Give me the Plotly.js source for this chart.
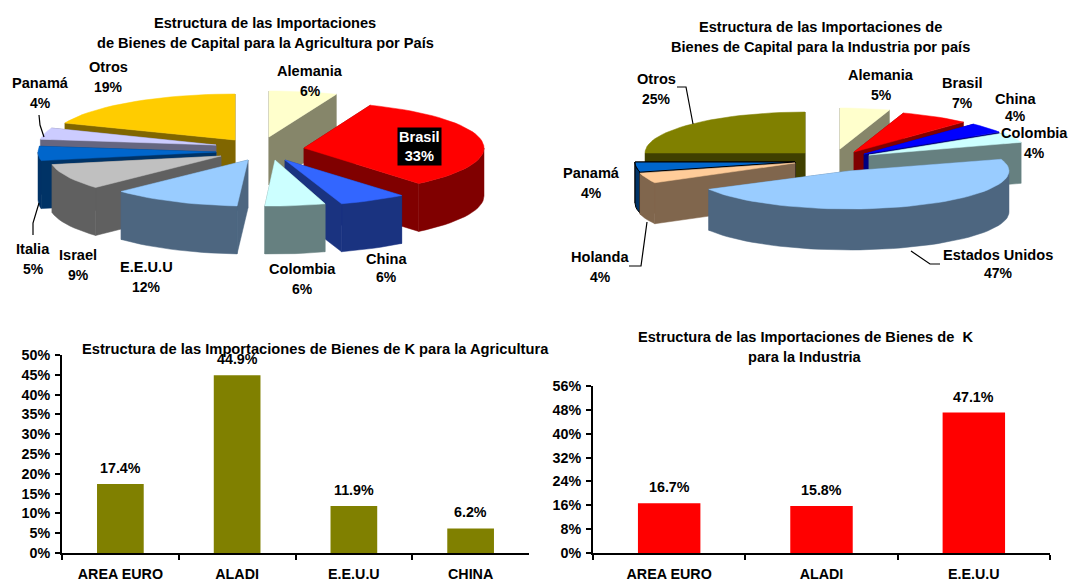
<!DOCTYPE html>
<html>
<head>
<meta charset="utf-8">
<script src="https://cdn.plot.ly/plotly-3.0.1.min.js"></script>
<style>html,body{margin:0;padding:0;background:#fff;overflow:hidden}#c{width:1069px;height:581px}</style>
</head>
<body>
<div id="c"></div>
<script>
// ---- data ----
const agriPieLabels = ['Alemania','Brasil','China','Colombia','E.E.U.U','Israel','Italia','Panamá','Otros'];
const agriPieValues = [6,33,6,6,12,9,5,4,19];
const indPieLabels = ['Alemania','Brasil','China','Colombia','Estados Unidos','Holanda','Panamá','Otros'];
const indPieValues = [5,7,4,4,47,4,4,25];
const agriBarCats = ['AREA EURO','ALADI','E.E.U.U','CHINA'];
const agriBarValues = [17.4,44.9,11.9,6.2];
const indBarCats = ['AREA EURO','ALADI','E.E.U.U'];
const indBarValues = [16.7,15.8,47.1];

// ---- styles & layout ----
const FONT = 'Liberation Sans, Arial, sans-serif';
const agriTop = ['#FFFFCC','#FF0000','#3366FF','#CCFFFF','#99CCFF','#C0C0C0','#0066CC','#CCCCFF','#FFCC00'];
const agriWall = ['#86866A','#800000','#1A3380','#668080','#4D6680','#606060','#003366','#666680','#806600'];
const indTop = ['#FFFFCC','#FF0000','#0000FF','#CCFFFF','#99CCFF','#FFCC99','#0066CC','#808000'];
const indWall = ['#86866A','#800000','#000080','#668080','#4D6680','#80664D','#003366','#404000'];
// slice tips on the page (pixel axes), per slice
const agriTips = [[269,137],[304,148],[285,160],[275,160],[248,160],[221,156],[216,152],[216,145],[235,140]];
const indTips = [[840,149],[854,152],[864,154],[869,155],[849,171],[795,163],[795,162],[805,153]];
const agriOrder = [8,7,6,5,4,0,1,2,3];
const indOrder = [7,0,1,2,3,6,5,4];
const agriRx = [183,180,183,162,174,172,178,177,183];
const agriRy = [46,46,46,46,46,46,46,46,46];
const indRx = [160,160,160,160,160,160,160,160];
const indRy = [41,41,41,41,38,41,41,41];
const agriDepth = 48, indDepth = 41;

const traces = [];
function poly(xs, ys, color, outline) {
  traces.push({type:'scatter', mode:'lines', x:xs.concat(xs[0]), y:ys.concat(ys[0]),
    fill:'toself', fillcolor:color, line:{color:outline||color, width:outline?1:0.5},
    xaxis:'x3', yaxis:'y3', hoverinfo:'skip', showlegend:false});
}
function pt(tip, s, deg, down) {
  const r = deg*Math.PI/180;
  return [tip[0]+s.rx*Math.sin(r), tip[1]-s.ry*Math.cos(r)+(down?s.depth:0)];
}
function arc(tip, s, a, b, down) {
  const out=[]; const n=Math.max(2,Math.ceil((b-a)/3));
  for(let i=0;i<=n;i++) out.push(pt(tip,s,a+(b-a)*i/n,down));
  return out;
}
function radial(tip, s, deg) {
  const p=pt(tip,s,deg,false), q=pt(tip,s,deg,true);
  return {x:[tip[0],p[0],q[0],tip[0]], y:[tip[1],p[1],q[1],tip[1]+s.depth]};
}
function drawPie(values, tips, order, tops, walls, rxs, rys, depth, outlined) {
  const total = values.reduce((a,b)=>a+b,0);
  let c=0; const angles=values.map(v=>{const a=c/total*360; c+=v; return [a,c/total*360];});
  order.forEach(i=>{
    const [a,b]=angles[i], tip=tips[i], line=outlined===i?'#000000':null, s={rx:rxs[i],ry:rys[i],depth:depth};
    const faces=[[a,Math.sin(a*Math.PI/180)<0],[b,Math.sin(b*Math.PI/180)>0]];
    faces.filter(f=>!f[1]).forEach(f=>{const r=radial(tip,s,f[0]); poly(r.x,r.y,walls[i],line);});
    const a2=Math.max(a,90), b2=Math.min(b,270);
    if(b2>a2){
      const up=arc(tip,s,a2,b2,false), dn=arc(tip,s,a2,b2,true).reverse(), all=up.concat(dn);
      poly(all.map(p=>p[0]),all.map(p=>p[1]),walls[i],line);
    }
    faces.filter(f=>f[1]).forEach(f=>{const r=radial(tip,s,f[0]); poly(r.x,r.y,walls[i],line);});
    const top=[tip].concat(arc(tip,s,a,b,false));
    poly(top.map(p=>p[0]),top.map(p=>p[1]),tops[i],line);
  });
}
drawPie(agriPieValues,agriTips,agriOrder,agriTop,agriWall,agriRx,agriRy,agriDepth,-1);
drawPie(indPieValues,indTips,indOrder,indTop,indWall,indRx,indRy,indDepth,6);

// leader lines (pixel axes)
const leaders = [
  [[39,115],[40,125],[44,137]],
  [[33,235],[33,223],[39,203]],
  [[677,87],[686,87],[693,124]],
  [[629,266],[641,266],[647,222]],
  [[940,264],[930,264],[911,251]]
];
leaders.forEach(l=>traces.push({type:'scatter',mode:'lines',x:l.map(p=>p[0]),y:l.map(p=>p[1]),
  line:{color:'#000',width:1.2},xaxis:'x3',yaxis:'y3',hoverinfo:'skip',showlegend:false}));

// bars
traces.push({type:'bar',x:agriBarCats,y:agriBarValues,marker:{color:'#808000'},width:0.4,xaxis:'x',yaxis:'y',hoverinfo:'skip',showlegend:false});
traces.push({type:'bar',x:indBarCats,y:indBarValues,marker:{color:'#FF0000'},width:0.41,xaxis:'x2',yaxis:'y2',hoverinfo:'skip',showlegend:false});

// text
const annotations=[];
const NAME=14.6, NUM=14, BARNUM=14.3;
function txt(s,x,y,size){
  annotations.push({text:'<b>'+s+'</b>',x:x,y:y,xref:'x3',yref:'y3',showarrow:false,xanchor:'center',yanchor:'middle',
    font:{family:FONT,size:size,color:'#000'}});
}
txt('Estructura de las Importaciones',265,23,NAME);
txt('de Bienes de Capital para la Agricultura por País',265,43,NAME);
txt('Estructura de las Importaciones de',820,27,NAME);
txt('Bienes de Capital para la Industria por país',820,47,NAME);
txt('Estructura de las Importaciones de Bienes de K para la Agricultura',315,349,14.7);
txt('Estructura de las Importaciones de Bienes de \u00a0K',805,337,NAME);
txt('para la Industria',805,357,NAME);

const agriLabelPos=[[310,71],[0,0],[386,259],[302,269],[146,267],[78,255],[33,249],[40,83],[108,67]];
const agriLabelGap=[20,0,18,20,20,20,20,20,20];
agriPieLabels.forEach((n,i)=>{
  if(i===1) return;
  txt(n,agriLabelPos[i][0],agriLabelPos[i][1],NAME);
  txt(agriPieValues[i]+'%',agriLabelPos[i][0],agriLabelPos[i][1]+agriLabelGap[i],NUM);
});
annotations.push({text:'<b>'+agriPieLabels[1]+'<br>'+agriPieValues[1]+'%</b>',x:419,y:146,xref:'x3',yref:'y3',showarrow:false,
  bgcolor:'#000',borderpad:1,font:{family:FONT,size:14.6,color:'#fff'},xanchor:'center',yanchor:'middle'});

const indLabelPos=[[881,75],[962,83],[1015,99],[1034,133],[998,255],[600,257],[591,173],[656,79]];
const indLabelGap=[20,20,17,20,18,20,20,20];
indPieLabels.forEach((n,i)=>{
  txt(n,indLabelPos[i][0],indLabelPos[i][1],NAME);
  txt(indPieValues[i]+'%',indLabelPos[i][0],indLabelPos[i][1]+indLabelGap[i],NUM);
});
agriBarCats.forEach((c,i)=>annotations.push({text:'<b>'+agriBarValues[i].toFixed(1)+'%</b>',x:c,y:agriBarValues[i],xref:'x',yref:'y',
  showarrow:false,yshift:16,font:{family:FONT,size:BARNUM,color:'#000'}}));
indBarCats.forEach((c,i)=>annotations.push({text:'<b>'+indBarValues[i].toFixed(1)+'%</b>',x:c,y:indBarValues[i],xref:'x2',yref:'y2',
  showarrow:false,yshift:16,font:{family:FONT,size:BARNUM,color:'#000'}}));

const W=1069,H=581;
const tickFont={family:FONT,size:14.3,color:'#000',weight:700};
function catAxis(l,r,anchor){return {domain:[l/W,r/W],anchor:anchor,type:'category',showgrid:false,zeroline:false,showline:true,linecolor:'#000',linewidth:2,
  ticks:'outside',tickson:'boundaries',ticklen:5,tickwidth:2,tickcolor:'#000',tickfont:tickFont,ticklabelstandoff:7,fixedrange:true};}
function valAxis(t,b,max,dtick,anchor){return {domain:[1-b/H,1-t/H],anchor:anchor,range:[0,max],dtick:dtick,tick0:0,ticksuffix:'%',showgrid:false,zeroline:false,showline:true,
  linecolor:'#000',linewidth:2,ticks:'outside',ticklen:5,tickwidth:2,tickcolor:'#000',tickfont:tickFont,ticklabelstandoff:2,fixedrange:true};}

const layout={width:W,height:H,margin:{l:0,r:0,t:0,b:0},paper_bgcolor:'#fff',plot_bgcolor:'rgba(0,0,0,0)',showlegend:false,
  font:{family:FONT},
  xaxis:catAxis(62,529,'y'), yaxis:valAxis(355,553,50,5,'x'),
  xaxis2:catAxis(593,1050,'y2'), yaxis2:valAxis(386,553,56,8,'x2'),
  xaxis3:{domain:[0,1],range:[0,W],visible:false,anchor:'y3',fixedrange:true},
  yaxis3:{domain:[0,1],range:[H,0],visible:false,anchor:'x3',fixedrange:true},
  annotations:annotations};
Plotly.newPlot('c',traces,layout,{displayModeBar:false,staticPlot:true});
</script>
</body>
</html>
